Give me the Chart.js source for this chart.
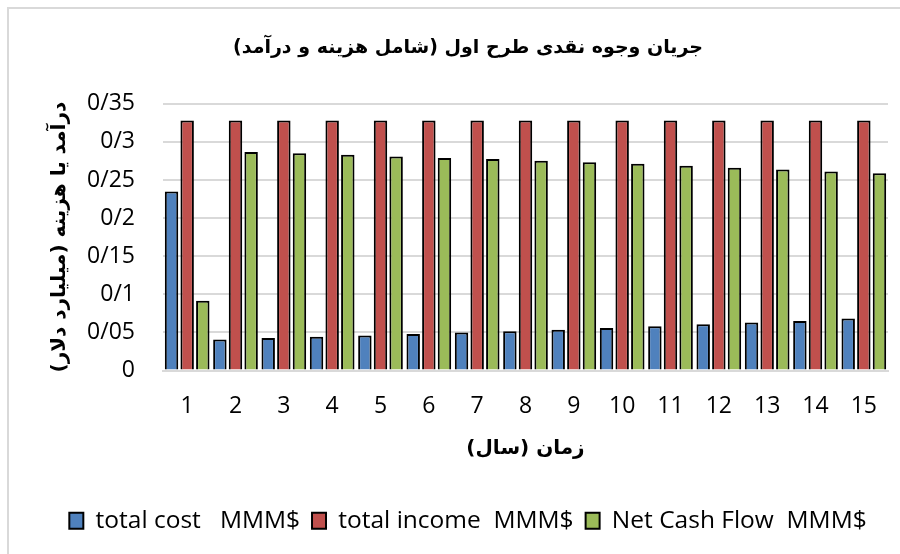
<!DOCTYPE html>
<html>
<head>
<meta charset="utf-8">
<script src="https://cdn.jsdelivr.net/npm/chart.js@4.4.1/dist/chart.umd.min.js"></script>
<style>
  html, body { margin: 0; padding: 0; background: #fff; }
  #wrap { position: relative; width: 900px; height: 554px; }
  #frame { position: absolute; left: 7px; top: 7px; width: 920px; height: 600px;
           border-left: 2px solid #d9d9d9; border-top: 2px solid #d9d9d9; }
  canvas { position: absolute; left: 0; top: 0; }
</style>
</head>
<body>
<div id="wrap">
  <div id="frame"></div>
  <canvas id="c" width="900" height="554"></canvas>
</div>
<script>
const years = ['1','2','3','4','5','6','7','8','9','10','11','12','13','14','15'];
const totalCost = [0.235, 0.0407, 0.0425, 0.0443, 0.046, 0.0478, 0.050, 0.0516, 0.0536, 0.0557, 0.058, 0.0607, 0.0629, 0.065, 0.0682];
const totalIncome = [0.328, 0.328, 0.328, 0.328, 0.328, 0.328, 0.328, 0.328, 0.328, 0.328, 0.328, 0.328, 0.328, 0.328, 0.328];
const netCashFlow = [0.0916, 0.2867, 0.285, 0.2832, 0.281, 0.279, 0.2774, 0.2753, 0.2734, 0.2713, 0.2686, 0.266, 0.2637, 0.261, 0.2588];
const seriesNames = ['total cost   MMM$', 'total income  MMM$', 'Net Cash Flow  MMM$'];
const titleText = 'جریان وجوه نقدی طرح اول (شامل هزینه و درآمد)';
const yTitle = 'درآمد یا هزینه (میلیارد دلار)';
const xTitle = 'زمان (سال)';

const latin = "'Open Sans', 'Noto Sans', sans-serif";
const arabic = "'DejaVu Sans', sans-serif";

new Chart(document.getElementById('c'), {
  type: 'bar',
  data: {
    labels: years,
    datasets: [
      { label: seriesNames[0], data: totalCost, backgroundColor: '#4F81BD', borderColor: '#000', borderWidth: 2 },
      { label: seriesNames[1], data: totalIncome, backgroundColor: '#C0504D', borderColor: '#000', borderWidth: 2 },
      { label: seriesNames[2], data: netCashFlow, backgroundColor: '#9BBB59', borderColor: '#000', borderWidth: 2 }
    ]
  },
  options: {
    responsive: false,
    animation: false,
    devicePixelRatio: 1,
    datasets: { bar: { categoryPercentage: 0.97, barPercentage: 0.86 } },
    layout: { padding: { left: 48, right: 12, top: 0, bottom: 11 } },
    plugins: {
      title: {
        display: true,
        text: titleText,
        color: '#000',
        font: { family: arabic, size: 19, weight: 'bold' },
        padding: { top: 37, bottom: 44 }
      },
      legend: {
        position: 'bottom',
        labels: {
          color: '#000',
          font: { family: latin, size: 24.5 },
          boxWidth: 14,
          boxHeight: 16,
          padding: 12
        }
      },
      tooltip: { enabled: false }
    },
    scales: {
      x: {
        grid: { display: false },
        border: { display: true, color: '#d9d9d9', width: 2 },
        ticks: { color: '#000', font: { family: latin, size: 23 }, padding: 14 },
        title: {
          display: true, text: xTitle, color: '#000',
          font: { family: arabic, size: 20, weight: 'bold' },
          padding: { top: 4, bottom: 36 }
        },
        afterFit: (s) => { s.height = 126; }
      },
      y: {
        min: 0, max: 0.35,
        grid: { color: '#d9d9d9', lineWidth: 2, drawTicks: false },
        border: { display: false },
        ticks: {
          stepSize: 0.05, color: '#000', padding: 28,
          font: { family: latin, size: 23 },
          callback: (v) => String(Math.round(v * 100) / 100).replace('.', '/')
        },
        title: {
          display: true, text: yTitle, color: '#000',
          font: { family: arabic, size: 20, weight: 'bold' },
          padding: { top: 0, bottom: 6 }
        },
        afterFit: (s) => { s.width = 115; }
      }
    }
  }
});
</script>
</body>
</html>
